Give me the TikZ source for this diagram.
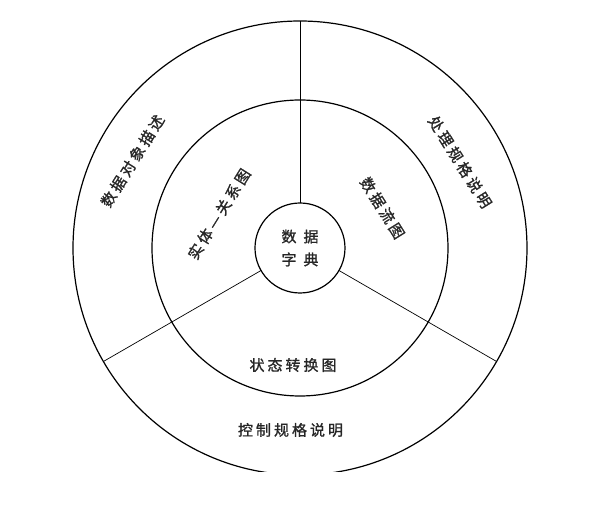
\documentclass[tikz,border=0pt]{standalone}
\usepackage{fontspec}
\newfontfamily\cjk[LetterSpace=20, FakeBold=1.2]{Noto Sans CJK SC}
\usetikzlibrary{shapes.geometric}
\tikzstyle{ring} = [circle, draw=black, line width=1.2pt, inner sep=0pt, outer sep=0pt]
\tikzstyle{spoke} = [line width=0.7pt]
\tikzstyle{ringtext} = [font=\cjk\fontsize{15}{18}\selectfont, text=black!85]

\begin{document}
\begin{tikzpicture}[x=1pt, y=1pt]

\useasboundingbox (-300,-257) rectangle (290,248);
\clip (-300,-223.7) rectangle (290,248);

\node (outer) [ring, minimum size=454pt] at (0,0) {};
\node (middle) [ring, minimum size=296pt] at (0,0) {};
\node (dict) [ring, ringtext, minimum size=90pt, align=center] at (0,0) {数\hspace{7pt}据\\[5pt]字\hspace{7pt}典};

\draw [spoke] (dict.90) -- (outer.90);
\draw [spoke] (dict.210) -- (outer.210);
\draw [spoke] (dict.330) -- (outer.330);

\node (objdesc) [ringtext, rotate=58] at (-167.5,87) {数据对象描述};
\node (erd) [ringtext, rotate=58] at (-81,34) {实体—关系图};
\node (procspec) [ringtext, rotate=-58] at (160,86) {处理规格说明};
\node (dfd) [ringtext, rotate=-58] at (82.5,40) {数据流图};
\node (statetr) [ringtext] at (-7,-117) {状态转换图};
\node (ctrlspec) [ringtext] at (-9.5,-182) {控制规格说明};

\end{tikzpicture}
\end{document}
